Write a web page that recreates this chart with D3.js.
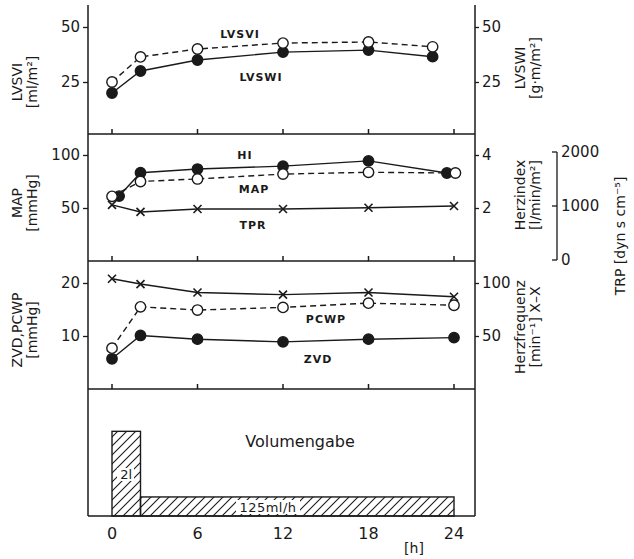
<!DOCTYPE html>
<html>
<head>
<meta charset="utf-8">
<script src="https://cdn.jsdelivr.net/npm/d3@7"></script>
<style>
  body { margin: 0; background: #fff; }
  svg text { font-family: "DejaVu Sans", "Liberation Sans", sans-serif; fill: #1a1a1a; }
</style>
</head>
<body>
<svg id="chart" width="634" height="559"></svg>
<script>
// hours of measurement
const hoursTop = [0, 2, 6, 12, 18, 22.5];
const hoursStd = [0, 2, 6, 12, 18, 24];
const hoursHI = [0.5, 2, 6, 12, 18, 23.5];
const hoursMAP = [0, 2, 6, 12, 18, 24.1];
const xTicks = [0, 6, 12, 18, 24];

// panel 1
const lvsvi = [25, 36.4, 40, 42.7, 43.2, 41];
const lvswi = [20, 30, 35, 38.6, 39.5, 36.5];
// panel 2
const hi = [2.45, 3.33, 3.47, 3.58, 3.78, 3.32];
const map = [61, 75, 77.4, 82, 83.7, 83];
const tpr = [1020, 890, 944, 944, 968, 1000];
// panel 3
const hf = [104, 99, 91, 89, 91, 87];
const pcwp = [7.7, 15.5, 14.9, 15.4, 16.2, 15.8];
const zvd = [5.7, 10.1, 9.4, 8.9, 9.4, 9.7];
// panel 4: infusion rate (ml/h)
const infusion = [
  { from: 0, to: 2, rate: 1000, label: "2l" },
  { from: 2, to: 24, rate: 225, label: "125ml/h" }
];

const svg = d3.select("#chart");
const ink = "#1a1a1a";
const L = 88, R = 475;
const x = d3.scaleLinear().domain([0, 24]).range([112, 454]);

// panel rows
const p1 = { top: 5, bottom: 134 };
const p2 = { top: 134, bottom: 261 };
const p3 = { top: 261, bottom: 389 };
const p4 = { top: 389, bottom: 516 };

const yLVSVI = d3.scaleLinear().domain([0, 50]).range([137, 27]);
const yMAP = d3.scaleLinear().domain([0, 100]).range([261, 155]);
const yHI = d3.scaleLinear().domain([0, 4]).range([261, 155]);
const yTRP = d3.scaleLinear().domain([0, 2000]).range([260, 152]);
const yZVD = d3.scaleLinear().domain([0, 20]).range([389, 283]);
const yHF = d3.scaleLinear().domain([0, 100]).range([389, 283]);
const yVol = d3.scaleLinear().domain([0, 1500]).range([516, 389]);

// frame
const frame = svg.append("g").attr("stroke", ink).attr("stroke-width", 1.5).attr("fill", "none");
frame.append("line").attr("x1", L).attr("x2", L).attr("y1", p1.top).attr("y2", p4.bottom);
frame.append("line").attr("x1", R).attr("x2", R).attr("y1", p1.top).attr("y2", p4.bottom);
[p1.bottom, p2.bottom, p3.bottom, p4.bottom].forEach(y => {
  frame.append("line").attr("x1", L).attr("x2", R).attr("y1", y).attr("y2", y);
});
// upward x ticks on the separators
[p1.bottom, p2.bottom, p3.bottom].forEach(y => {
  frame.selectAll(null).data(xTicks).enter().append("line")
    .attr("x1", d => x(d)).attr("x2", d => x(d))
    .attr("y1", y).attr("y2", y - 5);
});

// y axes
function leftAxis(scale, ticks) {
  const g = svg.append("g").attr("transform", `translate(${L},0)`)
    .call(d3.axisLeft(scale).tickValues(ticks).tickFormat(d3.format("d")).tickSize(5).tickPadding(3));
  g.select(".domain").remove();
  g.selectAll("line").attr("stroke", ink).attr("stroke-width", 1.3);
  g.selectAll("text").attr("font-size", 15).style("font-family", "DejaVu Sans, sans-serif").attr("fill", ink);
}
function rightAxis(scale, ticks, xpos = R) {
  const g = svg.append("g").attr("transform", `translate(${xpos},0)`)
    .call(d3.axisRight(scale).tickValues(ticks).tickFormat(d3.format("d")).tickSize(4).tickPadding(3));
  g.select(".domain").remove();
  g.selectAll("line").attr("stroke", ink).attr("stroke-width", 1.3);
  g.selectAll("text").attr("font-size", 15).style("font-family", "DejaVu Sans, sans-serif").attr("fill", ink);
}
leftAxis(yLVSVI, [25, 50]);
rightAxis(yLVSVI, [25, 50]);
leftAxis(yMAP, [50, 100]);
rightAxis(yHI, [2, 4]);
leftAxis(yZVD, [10, 20]);
rightAxis(yHF, [50, 100]);

// TRP bracket axis
const bx = 557;
const trp = svg.append("g");
trp.append("line").attr("x1", bx).attr("x2", bx).attr("y1", yTRP(2000)).attr("y2", yTRP(0))
  .attr("stroke", ink).attr("stroke-width", 1.3);
trp.selectAll(null).data([0, 1000, 2000]).enter().append("line")
  .attr("x1", bx - 5).attr("x2", bx).attr("y1", d => yTRP(d)).attr("y2", d => yTRP(d))
  .attr("stroke", ink).attr("stroke-width", 1.3);
trp.selectAll(null).data([0, 1000, 2000]).enter().append("text")
  .attr("x", bx + 4).attr("y", d => yTRP(d)).attr("dy", "0.35em")
  .attr("font-size", 15).text(d => d);

// bottom x labels
svg.selectAll(null).data(xTicks).enter().append("text")
  .attr("x", d => x(d)).attr("y", 539).attr("text-anchor", "middle")
  .attr("font-size", 16).text(d => d);
svg.append("text").attr("x", 414).attr("y", 553).attr("text-anchor", "middle")
  .attr("font-size", 14).text("[h]");

// rotated axis titles
function vtitle(cx, cy, lines, size = 14) {
  const t = svg.append("text").attr("transform", `translate(${cx},${cy}) rotate(-90)`)
    .attr("text-anchor", "middle").attr("font-size", size);
  lines.forEach((s, i) => {
    t.append("tspan").attr("x", 0).attr("dy", i === 0 ? 0 : "1.1em").text(s);
  });
}
vtitle(22, 82, ["LVSVI", "[ml/m²]"]);
vtitle(22, 203, ["MAP", "[mmHg]"]);
vtitle(22, 330, ["ZVD,PCWP", "[mmHg]"]);
vtitle(525, 68, ["LVSWI", "[g·m/m²]"]);
vtitle(525, 195, ["Herzindex", "[l/min/m²]"]);
vtitle(525, 327, ["Herzfrequenz", "[min⁻¹] X–X"]);
vtitle(625, 236, ["TRP [dyn s cm⁻⁵]"]);

// series drawing
function series(hrs, vals, scale, marker, dashed) {
  const pts = hrs.map((h, i) => [x(h), scale(vals[i])]);
  svg.append("path").attr("d", d3.line()(pts)).attr("fill", "none")
    .attr("stroke", ink).attr("stroke-width", 1.4)
    .attr("stroke-dasharray", dashed ? "6,4" : null);
  const g = svg.append("g");
  if (marker === "x") {
    pts.forEach(([px, py]) => {
      g.append("path").attr("d", `M${px - 4},${py - 4}L${px + 4},${py + 4}M${px - 4},${py + 4}L${px + 4},${py - 4}`)
        .attr("stroke", ink).attr("stroke-width", 1.6);
    });
  } else {
    g.selectAll(null).data(pts).enter().append("circle")
      .attr("cx", d => d[0]).attr("cy", d => d[1]).attr("r", 5.2)
      .attr("fill", marker === "filled" ? ink : "#fff")
      .attr("stroke", ink).attr("stroke-width", 1.4);
  }
}
series(hoursTop, lvswi, yLVSVI, "filled", false);
series(hoursTop, lvsvi, yLVSVI, "open", true);
series(hoursStd, tpr, yTRP, "x", false);
series(hoursHI, hi, yHI, "filled", false);
series(hoursMAP, map, yMAP, "open", true);
series(hoursStd, hf, yHF, "x", false);
series(hoursStd, zvd, yZVD, "filled", false);
series(hoursStd, pcwp, yZVD, "open", true);

// series labels
const labels = [
  ["LVSVI", 240, 38], ["LVSWI", 261, 81],
  ["HI", 245, 159], ["MAP", 254, 193], ["TPR", 253, 229],
  ["PCWP", 326, 323], ["ZVD", 318, 363]
];
svg.selectAll(null).data(labels).enter().append("text")
  .attr("x", d => d[1]).attr("y", d => d[2]).attr("text-anchor", "middle")
  .attr("font-size", 11).attr("font-weight", "bold").attr("letter-spacing", 1)
  .text(d => d[0]);

// infusion panel
const defs = svg.append("defs");
const pat = defs.append("pattern").attr("id", "hatch").attr("patternUnits", "userSpaceOnUse")
  .attr("width", 9).attr("height", 9);
pat.append("path").attr("d", "M0,9L9,0M-2,2L2,-2M7,11L11,7")
  .attr("stroke", ink).attr("stroke-width", 1.1);
svg.selectAll(null).data(infusion).enter().append("rect")
  .attr("x", d => x(d.from)).attr("width", d => x(d.to) - x(d.from))
  .attr("y", d => yVol(d.rate)).attr("height", d => yVol(0) - yVol(d.rate))
  .attr("fill", "url(#hatch)").attr("stroke", ink).attr("stroke-width", 1.4);
// inline labels with white backing
const bar1 = infusion[0], bar2 = infusion[1];
svg.append("rect").attr("x", 117).attr("y", 468).attr("width", 17).attr("height", 13).attr("fill", "#fff");
svg.append("text").attr("x", x((bar1.from + bar1.to) / 2)).attr("y", 479).attr("text-anchor", "middle")
  .attr("font-size", 13).text(bar1.label);
svg.append("rect").attr("x", 236).attr("y", 500).attr("width", 64).attr("height", 14).attr("fill", "#fff");
svg.append("text").attr("x", 268).attr("y", 512).attr("text-anchor", "middle")
  .attr("font-size", 13).attr("letter-spacing", 0.5).text(bar2.label);
svg.append("text").attr("x", 300).attr("y", 447).attr("text-anchor", "middle")
  .attr("font-size", 16).text("Volumengabe");
</script>
</body>
</html>
